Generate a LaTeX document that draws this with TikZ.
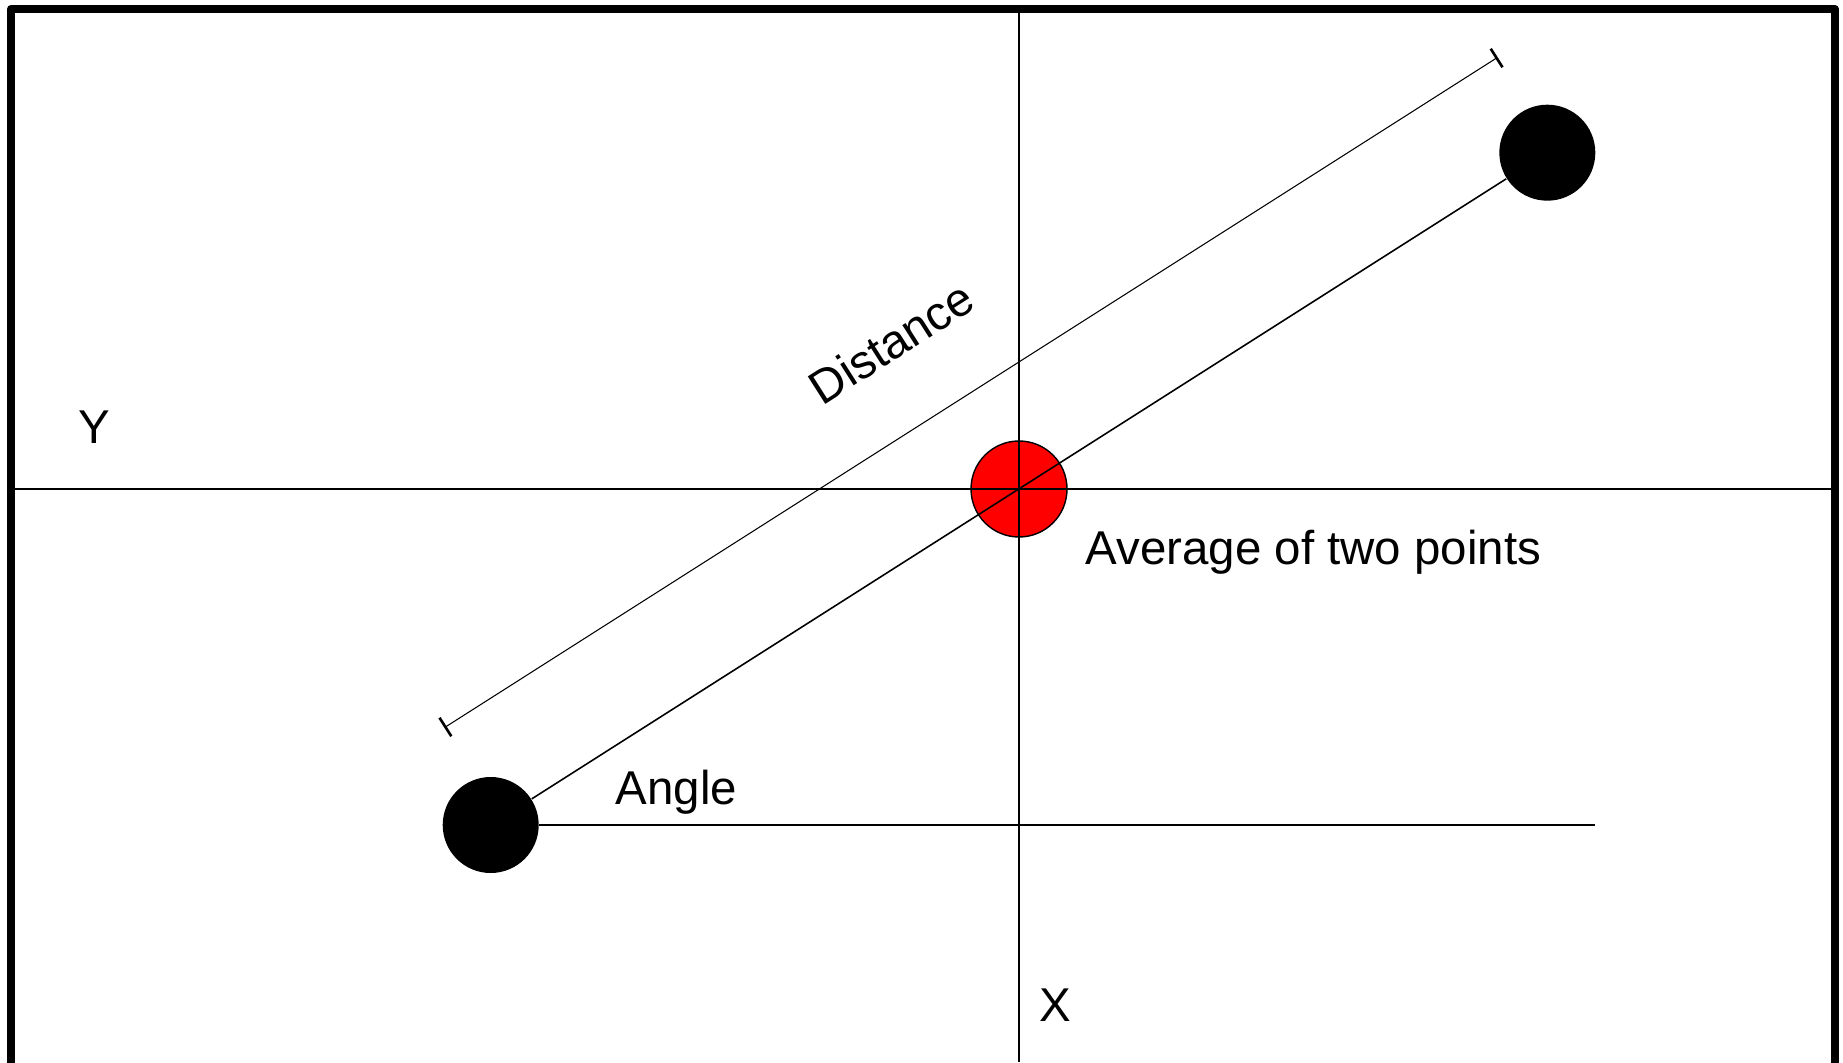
\documentclass[tikz,border=0pt]{standalone}
\usepackage{fontspec}
\setmainfont{Liberation Sans}
\usetikzlibrary{arrows.meta,positioning,calc}

\begin{document}
\begin{tikzpicture}[
    every node/.style={font=\fontsize{13.5}{16}\selectfont, inner sep=0pt},
    point/.style={circle, fill=black, minimum size=0.96cm},
    mean/.style={circle, draw, fill=red, minimum size=0.96cm, line width=0.4pt},
    axis/.style={draw, line width=0.4pt},
    link/.style={draw, line width=0.45pt},
    span/.style={draw, line width=0.3pt, {Bar[width=0.22cm,line width=0.75pt]}-{Bar[width=0.22cm,line width=0.75pt]}},
    frame/.style={draw, line width=2.3pt, line join=round}
]
\clip (0,0) rectangle (18.43,10.62);

% Frame (open at the bottom edge)
\path [frame] (0.11,-0.3) -- (0.11,10.53) -- (18.35,10.53) -- (18.35,-0.3);

% Points
\node[mean] (avg) at (10.19,5.73) {};
\node[point] (p1) at (4.907,2.37) {};
\node[point] (p2) at (15.473,9.093) {};

% Axes
\coordinate (xl) at (0.11,5.73);
\coordinate (xr) at (18.35,5.73);
\coordinate (yt) at (10.19,10.53);
\coordinate (yb) at (10.19,0);
\path [axis] (xl) -- (xr);
\path [axis] (yt) -- (yb);

% Connections
\coordinate (aend) at (15.95,2.37);
\path [link] (p1) -- (p2);
\path [link] (p1) -- (aend);

% Distance marker
\coordinate (d1) at (4.443,3.343);
\coordinate (d2) at (14.977,10.047);
\path [span] (d1) -- (d2);

% Labels
\node[anchor=base west, rotate=32.47] (dist) at (8.217,6.553) {Distance};
\node[anchor=base west] (avglabel) at (10.85,4.98) {Average of two points};
\node[anchor=base west] (anglelabel) at (6.15,2.58) {Angle};
\node[anchor=base west] (ylabel) at (0.78,6.18) {Y};
\node[anchor=base west] (xlabel) at (10.39,0.403) {X};

\end{tikzpicture}
\end{document}
